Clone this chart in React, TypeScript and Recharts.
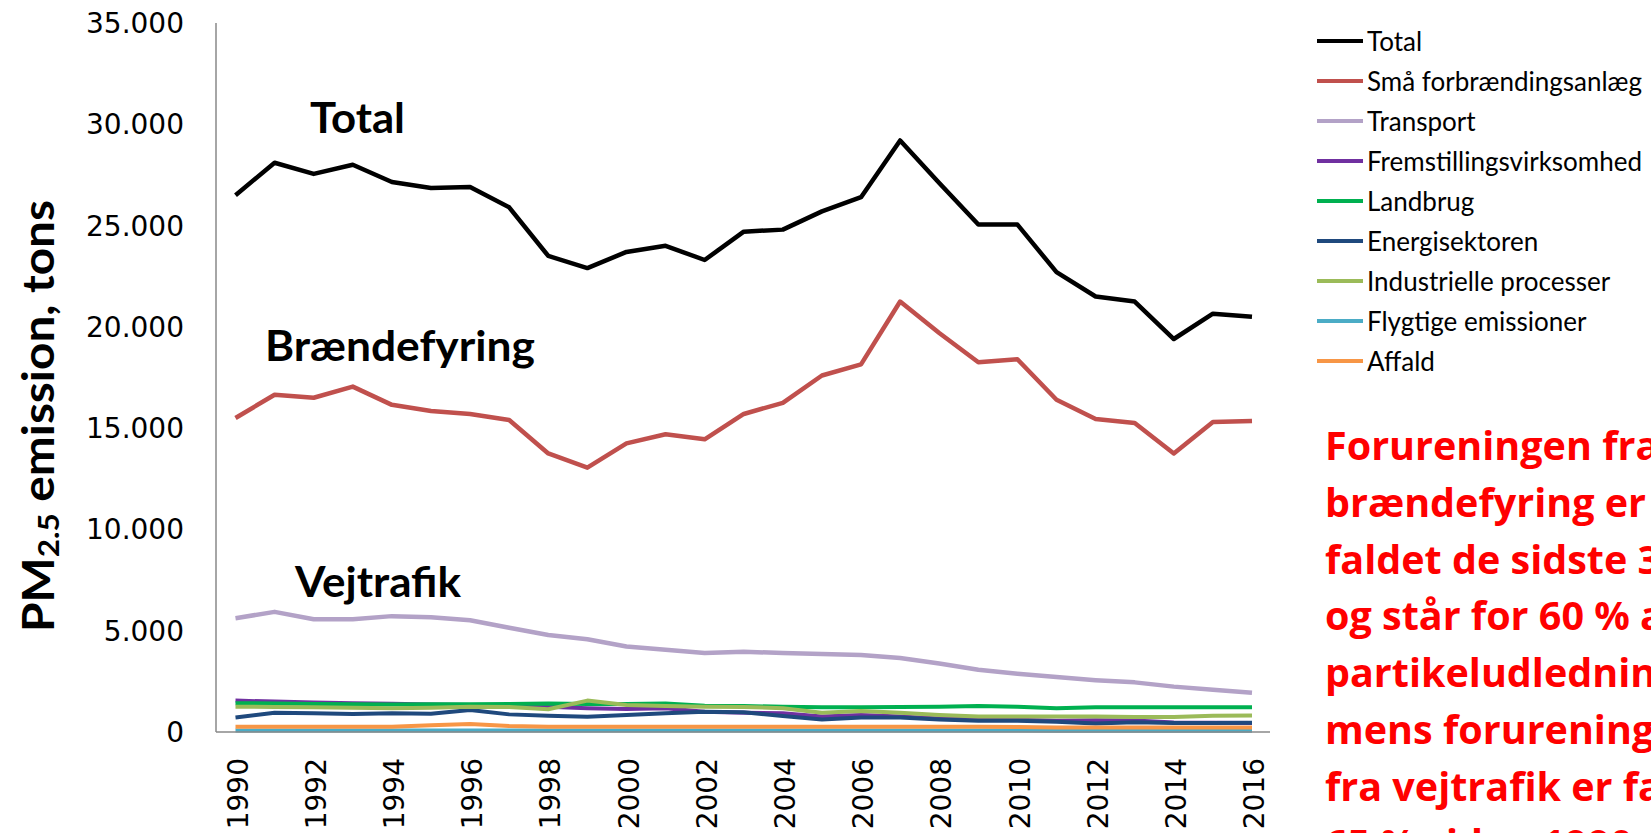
import React from 'react';
import { LineChart, Line, XAxis, YAxis, Legend, Customized } from 'recharts';

const years = [1990, 1991, 1992, 1993, 1994, 1995, 1996, 1997, 1998, 1999, 2000, 2001, 2002, 2003, 2004, 2005, 2006, 2007, 2008, 2009, 2010, 2011, 2012, 2013, 2014, 2015, 2016];

const total = [26500, 28100, 27550, 28000, 27150, 26850, 26900, 25900, 23500, 22900, 23700, 24000, 23300, 24700, 24800, 25700, 26400, 29200, 27100, 25050, 25050, 22700, 21500, 21250, 19400, 20650, 20500];
const smaaForbraendingsanlaeg = [15500, 16650, 16500, 17050, 16150, 15850, 15700, 15400, 13750, 13050, 14250, 14700, 14450, 15700, 16250, 17600, 18150, 21250, 19700, 18250, 18400, 16400, 15450, 15250, 13750, 15300, 15350];
const transport = [5620, 5930, 5570, 5570, 5720, 5670, 5520, 5150, 4790, 4580, 4220, 4060, 3900, 3960, 3900, 3850, 3800, 3650, 3380, 3070, 2870, 2710, 2560, 2450, 2240, 2090, 1940];
const fremstilling = [1550, 1500, 1460, 1420, 1400, 1360, 1330, 1300, 1250, 1170, 1130, 1170, 1000, 950, 920, 760, 840, 760, 670, 620, 600, 560, 580, 570, 470, 460, 450];
const landbrug = [1420, 1410, 1380, 1370, 1360, 1370, 1370, 1380, 1410, 1380, 1380, 1410, 1300, 1280, 1250, 1220, 1220, 1230, 1250, 1280, 1250, 1170, 1220, 1220, 1220, 1220, 1220];
const energisektoren = [720, 950, 920, 890, 920, 900, 1090, 870, 800, 750, 840, 920, 1000, 970, 790, 620, 720, 720, 620, 560, 560, 510, 420, 480, 450, 450, 460];
const industrielle = [1250, 1240, 1220, 1200, 1170, 1200, 1250, 1240, 1120, 1550, 1330, 1280, 1250, 1240, 1170, 950, 1040, 950, 840, 760, 770, 760, 760, 740, 740, 800, 820];
const flygtige = [70, 70, 70, 70, 70, 70, 70, 70, 70, 70, 70, 70, 70, 70, 70, 70, 70, 70, 70, 70, 70, 60, 60, 60, 60, 60, 60];
const affald = [260, 260, 260, 260, 260, 330, 390, 300, 260, 260, 260, 260, 260, 260, 260, 260, 260, 260, 260, 260, 250, 220, 220, 220, 220, 220, 220];

const yTicks = [0, 5000, 10000, 15000, 20000, 25000, 30000, 35000];

const seriesDefs = [
  { key: 'total', name: 'Total', color: '#000000', values: total, width: 4.5 },
  { key: 'smaa', name: 'Små forbrændingsanlæg', color: '#C0504D', values: smaaForbraendingsanlaeg, width: 4.5 },
  { key: 'transport', name: 'Transport', color: '#B3A2C7', values: transport, width: 4.5 },
  { key: 'fremst', name: 'Fremstillingsvirksomhed', color: '#7030A0', values: fremstilling, width: 4 },
  { key: 'landbrug', name: 'Landbrug', color: '#00B050', values: landbrug, width: 4 },
  { key: 'energi', name: 'Energisektoren', color: '#1F497D', values: energisektoren, width: 4 },
  { key: 'industri', name: 'Industrielle processer', color: '#9BBB59', values: industrielle, width: 4 },
  { key: 'flygtige', name: 'Flygtige emissioner', color: '#4BACC6', values: flygtige, width: 4 },
  { key: 'affald', name: 'Affald', color: '#F79646', values: affald, width: 4 },
];

const data = years.map((y, i) => {
  const row: Record<string, number | string> = { year: String(y) };
  seriesDefs.forEach((s) => {
    row[s.key] = s.values[i];
  });
  return row;
});

const redLines = [
  'Forureningen fra',
  'brændefyring er',
  'faldet de sidste 30',
  'og står for 60 % af',
  'partikeludledningen,',
  'mens forureningen',
  'fra vejtrafik er faldet',
  '65 % siden 1990',
];

const fmt = (v: number) => (v === 0 ? '0' : v.toLocaleString('de-DE'));

const XTick = (props: any) => {
  const { x, payload } = props;
  return (
    <text
      transform={`translate(${x + 2},758) rotate(-90)`}
      textAnchor="end"
      dy="0.36em"
      fontFamily="DejaVu Sans"
      fontSize={28}
      fill="#000"
    >
      {payload.value}
    </text>
  );
};

const renderLegend = (props: any) => {
  const payload = props.payload || [];
  const order = seriesDefs.map((s) => s.name);
  const sorted = [...payload].sort((a: any, b: any) => order.indexOf(a.value) - order.indexOf(b.value));
  return (
    <div style={{ position: 'absolute', left: 0, top: 0, width: 330 }}>
      {sorted.map((e: any, i: number) => (
        <div key={i} style={{ display: 'flex', alignItems: 'center', height: 40, whiteSpace: 'nowrap' }}>
          <span style={{ display: 'inline-block', width: 46, height: 4, background: e.color, marginRight: 4 }} />
          <span style={{ fontFamily: 'Lato', fontSize: 26, color: '#000', lineHeight: '40px' }}>{e.value}</span>
        </div>
      ))}
    </div>
  );
};

const Annotations = () => (
  <g>
    <text x={310} y={133} fontFamily="Lato" fontWeight="bold" fontSize={42} fill="#000" textLength={95} lengthAdjust="spacingAndGlyphs">
      Total
    </text>
    <text x={265} y={361} fontFamily="Lato" fontWeight="bold" fontSize={42} fill="#000" textLength={270} lengthAdjust="spacingAndGlyphs">
      Brændefyring
    </text>
    <text x={295} y={597} fontFamily="Lato" fontWeight="bold" fontSize={42} fill="#000" textLength={166} lengthAdjust="spacingAndGlyphs">
      Vejtrafik
    </text>
    <text
      transform="translate(54,416) rotate(-90)"
      textAnchor="middle"
      fontFamily="Lato"
      fontWeight="bold"
      fontSize={44}
      fill="#000"
      textLength={432}
      lengthAdjust="spacingAndGlyphs"
    >
      <tspan>PM</tspan>
      <tspan fontSize={29} dy={5}>2.5</tspan>
      <tspan dy={-5}> emission, tons</tspan>
    </text>
    {redLines.map((t, i) => (
      <text key={i} x={1325} y={460 + 56.8 * i} fontFamily="Open Sans" fontWeight="bold" fontSize={39.5} fill="#FF0000">
        {t}
      </text>
    ))}
  </g>
);

export default function App() {
  return (
    <div style={{ position: 'absolute', left: 0, top: 0, width: 1651, height: 833, overflow: 'hidden', background: '#fff' }}>
      <LineChart width={1651} height={833} data={data} margin={{ top: 23, right: 381, bottom: 0, left: 0 }}>
        <XAxis
          dataKey="year"
          interval={1}
          tickLine={false}
          padding={{ left: 19.5, right: 18 }}
          axisLine={{ stroke: '#898989', strokeWidth: 1.5 }}
          height={101}
          tick={<XTick />}
        />
        <YAxis
          domain={[0, 35000]}
          ticks={yTicks}
          width={216}
          tickLine={false}
          tickSize={0}
          tickMargin={32}
          axisLine={{ stroke: '#898989', strokeWidth: 1.5 }}
          tickFormatter={fmt}
          tick={{ fontFamily: 'DejaVu Sans', fontSize: 28, fill: '#000' }}
        />
        <Legend
          layout="vertical"
          align="right"
          verticalAlign="top"
          content={renderLegend}
          wrapperStyle={{ left: 1317, top: 21, width: 0, height: 0 }}
        />
        {seriesDefs.map((s) => (
          <Line
            key={s.key}
            type="linear"
            dataKey={s.key}
            name={s.name}
            stroke={s.color}
            strokeWidth={s.width}
            strokeLinejoin="round"
            dot={false}
            activeDot={false}
            isAnimationActive={false}
          />
        ))}
        <Customized component={Annotations} />
      </LineChart>
    </div>
  );
}
